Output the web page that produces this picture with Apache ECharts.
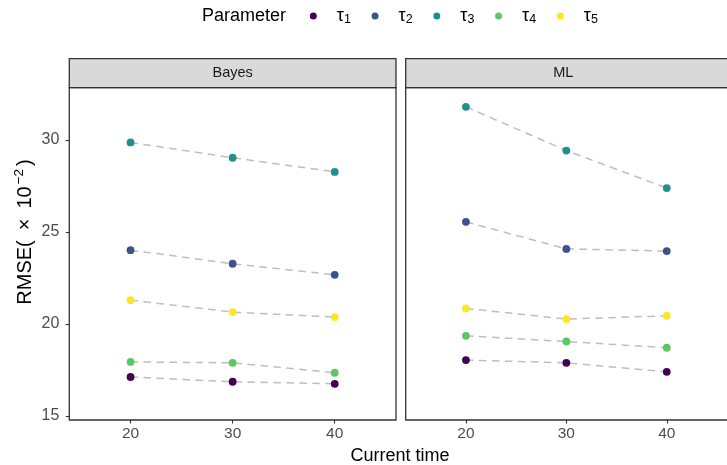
<!DOCTYPE html>
<html><head><meta charset="utf-8">
<script src="https://cdn.jsdelivr.net/npm/echarts@6/dist/echarts.min.js"></script>
<style>html,body{margin:0;padding:0;background:#fff}#c{width:727px;height:465px}</style>
</head><body><div id="c"></div>
<script>
const times = [20, 30, 40];
const panels = ['Bayes', 'ML'];
const params = ['τ1', 'τ2', 'τ3', 'τ4', 'τ5'];
const colors = ['#440154', '#3B528B', '#21908C', '#5DC863', '#FDE725'];
const yTicks = [15, 20, 25, 30];
// Bayes panel
const bayes_tau1 = [17.11, 16.85, 16.74];
const bayes_tau2 = [24.01, 23.27, 22.67];
const bayes_tau3 = [29.87, 29.04, 28.27];
const bayes_tau4 = [17.93, 17.88, 17.34];
const bayes_tau5 = [21.29, 20.64, 20.37];
// ML panel
const ml_tau1 = [18.03, 17.88, 17.39];
const ml_tau2 = [25.55, 24.08, 23.96];
const ml_tau3 = [31.81, 29.43, 27.39];
const ml_tau4 = [19.35, 19.04, 18.70];
const ml_tau5 = [20.84, 20.26, 20.44];

const panelData = [
  [bayes_tau1, bayes_tau2, bayes_tau3, bayes_tau4, bayes_tau5],
  [ml_tau1, ml_tau2, ml_tau3, ml_tau4, ml_tau5]
];

const FONT = '"Liberation Sans", Arial, sans-serif';
const gridTop = 87.7, gridH = 332.3;
const grids = [
  {left: 69.3, top: gridTop, width: 326.7, height: gridH},
  {left: 405.7, top: gridTop, width: 326, height: gridH}
];

const series = [];
panelData.forEach((arr, p) => {
  arr.forEach((vals, i) => {
    series.push({
      type: 'line', name: 'line_' + p + '_' + i, xAxisIndex: p, yAxisIndex: p,
      data: times.map((t, j) => [t, vals[j]]), symbol: 'none', silent: true, z: 1,
      lineStyle: {color: '#BEBEBE', width: 1.5, type: [7.5, 5.5]}
    });
    series.push({
      type: 'scatter', name: params[i], xAxisIndex: p, yAxisIndex: p,
      data: times.map((t, j) => [t, vals[j]]), symbol: 'circle', symbolSize: 7.8, z: 3,
      itemStyle: {color: colors[i], opacity: 1}
    });
  });
});

const xAxes = grids.map((g, p) => ({
  type: 'value', gridIndex: p, min: 14, max: 46,
  axisLine: {show: false}, splitLine: {show: false},
  axisTick: {show: true, length: 3.5, customValues: times, lineStyle: {color: '#333', width: 1.1}},
  axisLabel: {customValues: times, color: '#4D4D4D', fontSize: 15.5, fontFamily: FONT, margin: 6}
}));
const yAxes = grids.map((g, p) => ({
  type: 'value', gridIndex: p, min: 14.77, max: 32.85,
  axisLine: {show: false}, splitLine: {show: false},
  axisTick: {show: p === 0, length: 3.5, customValues: yTicks, lineStyle: {color: '#333', width: 1.1}},
  axisLabel: {show: p === 0, customValues: yTicks, color: '#4D4D4D', fontSize: 16, fontFamily: FONT, margin: 10}
}));

const graphics = [];
grids.forEach((g, p) => {
  graphics.push({
    type: 'rect', shape: {x: g.left, y: 58.7, width: g.width, height: 29},
    style: {fill: '#D9D9D9', stroke: '#333', lineWidth: 1.3}, z: 10
  });
  graphics.push({
    type: 'rect', shape: {x: g.left, y: gridTop, width: g.width, height: gridH},
    style: {fill: 'none', stroke: '#333', lineWidth: 1.3}, z: 10, silent: true
  });
  graphics.push({
    type: 'text', x: g.left + Math.min(g.width, 727 - g.left) / 2 + (p === 1 ? -3 : 0), y: 73.2,
    style: {text: panels[p], fill: '#1A1A1A', font: '14.5px ' + FONT, textAlign: 'center', textVerticalAlign: 'middle'}, z: 11
  });
});
graphics.push({
  type: 'text', x: 400, y: 456,
  style: {text: 'Current time', fill: '#000', font: '18px ' + FONT, textAlign: 'center', textVerticalAlign: 'middle'}
});
graphics.push({
  type: 'text', x: 25, y: 232, rotation: Math.PI / 2,
  style: {
    text: '{a|RMSE(\u2002×\u200210}{s|−2}{a|)}',
    textAlign: 'center', textVerticalAlign: 'middle', fill: '#000',
    rich: {
      a: {fontSize: 20, fontFamily: FONT, fill: '#000'},
      s: {fontSize: 13.5, fontFamily: FONT, fill: '#000', padding: [0, 3, 11, 2]}
    }
  }
});
graphics.push({
  type: 'text', x: 202, y: 16,
  style: {text: 'Parameter', fill: '#000', font: '18px ' + FONT, textAlign: 'left', textVerticalAlign: 'middle'}
});

const option = {
  animation: false,
  backgroundColor: '#fff',
  grid: grids.map(g => Object.assign({show: false, containLabel: false}, g)),
  xAxis: xAxes,
  yAxis: yAxes,
  legend: {
    data: params.map(n => ({name: n, icon: 'circle'})),
    left: 309.8, top: 7, padding: 0, itemWidth: 7, itemHeight: 7, itemGap: 20.7,
    selectedMode: false,
    formatter: n => '{t|τ}{s|' + n.slice(1) + '}',
    textStyle: {
      color: '#000', fontFamily: FONT,
      rich: {
        t: {fontSize: 18, fontFamily: FONT, color: '#000', padding: [0, 0, 0, 15]},
        s: {fontSize: 12.5, fontFamily: FONT, color: '#000', padding: [8, 0, 0, 0]}
      }
    }
  },
  graphic: graphics,
  series: series
};
const chart = echarts.init(document.getElementById('c'), null, {renderer: 'canvas'});
chart.setOption(option);
</script></body></html>
